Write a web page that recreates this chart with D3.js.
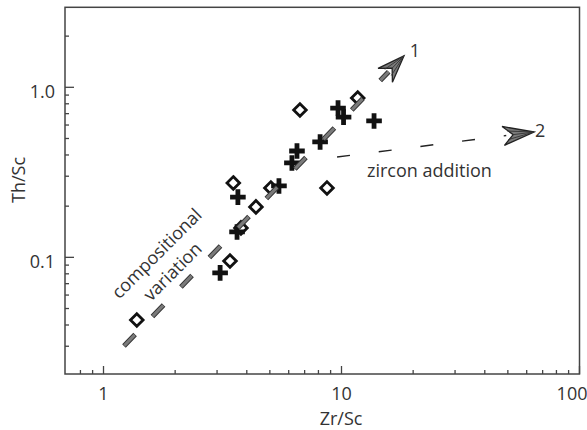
<!DOCTYPE html>
<html><head><meta charset="utf-8">
<script src="https://cdn.jsdelivr.net/npm/d3@7"></script>
<style>html,body{margin:0;padding:0;background:#fff;}svg{display:block;}</style>
</head><body>
<svg id="chart" width="587" height="430"></svg>
<script>
// ---- data ----
const diamondX = [1.38, 3.40, 3.51, 4.37, 3.78, 5.05, 6.69, 11.7, 8.69];
const diamondY = [0.0428, 0.0951, 0.274, 0.198, 0.149, 0.256, 0.735, 0.865, 0.256];
const crossX = [3.09, 3.64, 3.67, 5.46, 6.19, 6.50, 8.13, 9.67, 10.2, 13.7];
const crossY = [0.081, 0.141, 0.226, 0.263, 0.359, 0.422, 0.477, 0.755, 0.668, 0.634];
const compLineX = [1.219, 18.3];
const compLineY = [0.0301, 1.53];
const zirconLineX = [9.58, 64.4];
const zirconLineY = [0.389, 0.546];
const xTickValues = [1, 10, 100];
const xTickLabels = ["1", "10", "100"];
const yTickValues = [0.1, 1];
const yTickLabels = ["0.1", "1.0"];
const xTitle = "Zr/Sc";
const yTitle = "Th/Sc";

const svg = d3.select("#chart");
const FONT = "'Open Sans', 'Noto Sans', sans-serif";
const FS = 18;
const TXT = "#333";
const AX = "#444";

const x = d3.scaleLog().domain([0.689, 100]).range([65, 579.5]);
const y = d3.scaleLog().domain([0.0206, 2.955]).range([374, 7.3]);

// frame
svg.append("rect").attr("x", x.range()[0]).attr("y", y.range()[1])
  .attr("width", x.range()[1] - x.range()[0]).attr("height", y.range()[0] - y.range()[1])
  .attr("fill", "none").attr("stroke", AX).attr("stroke-width", 1.5);

// minor/major ticks (inward)
function logTicks(scale) {
  const [a, b] = scale.domain();
  const out = [];
  for (let e = Math.floor(Math.log10(a)); e <= Math.ceil(Math.log10(b)); e++) {
    for (let m = 1; m <= 9; m++) {
      const v = m * Math.pow(10, e);
      if (v >= a * 1.03 && v <= b * 1.001) out.push({v, major: m === 1});
    }
  }
  return out;
}
const gT = svg.append("g").attr("stroke", AX).attr("stroke-width", 1.3);
logTicks(x).forEach(t => {
  const px = x(t.v);
  gT.append("line").attr("x1", px).attr("x2", px)
    .attr("y1", y.range()[0]).attr("y2", y.range()[0] - (t.major ? 8 : 4));
});
logTicks(y).forEach(t => {
  const py = y(t.v);
  gT.append("line").attr("y1", py).attr("y2", py)
    .attr("x1", x.range()[0]).attr("x2", x.range()[0] + (t.major ? 9 : 4));
});

// tick labels
xTickValues.forEach((v, i) => {
  svg.append("text").attr("x", x(v)).attr("y", 400)
    .attr("text-anchor", i === 2 ? "end" : "middle")
    .attr("dx", i === 2 ? 8 : 0)
    .attr("font-family", FONT).attr("font-size", FS).attr("fill", TXT).text(xTickLabels[i]);
});
yTickValues.forEach((v, i) => {
  svg.append("text").attr("x", 55).attr("y", y(v) + 10.7)
    .attr("text-anchor", "end")
    .attr("font-family", FONT).attr("font-size", FS).attr("fill", TXT).text(yTickLabels[i]);
});
// axis titles
svg.append("text").attr("x", 341).attr("y", 425).attr("text-anchor", "middle")
  .attr("font-family", FONT).attr("font-size", FS).attr("fill", TXT).text(xTitle);
svg.append("text").attr("transform", "translate(25,180) rotate(-90)").attr("text-anchor", "middle")
  .attr("font-family", FONT).attr("font-size", FS).attr("fill", TXT).text(yTitle);

// markers
const gM = svg.append("g");
diamondX.forEach((v, i) => {
  const cx = x(v), cy = y(diamondY[i]), r = 6.3;
  gM.append("path").attr("d", `M${cx},${cy - r}L${cx + r},${cy}L${cx},${cy + r}L${cx - r},${cy}Z`)
    .attr("fill", "none").attr("stroke", "#111").attr("stroke-width", 2.8);
});
crossX.forEach((v, i) => {
  const cx = x(v), cy = y(crossY[i]), r = 7.8;
  gM.append("path").attr("d", `M${cx - r},${cy}H${cx + r}M${cx},${cy - r}V${cy + r}`)
    .attr("fill", "none").attr("stroke", "#111").attr("stroke-width", 4.8);
});

// compositional variation line (outlined grey dashes)
function seg(lx, ly) {
  return {x1: x(lx[0]), y1: y(ly[0]), x2: x(lx[1]), y2: y(ly[1])};
}
const c = seg(compLineX, compLineY);
const cLen = Math.hypot(c.x2 - c.x1, c.y2 - c.y1);
const cEnd = cLen - 22;
const cu = [(c.x2 - c.x1) / cLen, (c.y2 - c.y1) / cLen];
[["#333", 5], ["#7a7a7a", 3]].forEach(([col, w]) => {
  svg.append("line").attr("x1", c.x1).attr("y1", c.y1)
    .attr("x2", c.x1 + cu[0] * cEnd).attr("y2", c.y1 + cu[1] * cEnd)
    .attr("stroke", col).attr("stroke-width", w)
    .attr("stroke-dasharray", w === 5 ? "16 25" : "15 26")
    .attr("stroke-dashoffset", w === 5 ? 0 : -0.5);
});

// zircon addition line
const z = seg(zirconLineX, zirconLineY);
const zLen = Math.hypot(z.x2 - z.x1, z.y2 - z.y1);
const zu = [(z.x2 - z.x1) / zLen, (z.y2 - z.y1) / zLen];
const zEnd = zLen - 28;
svg.append("line").attr("x1", z.x1).attr("y1", z.y1)
  .attr("x2", z.x1 + zu[0] * zEnd).attr("y2", z.y1 + zu[1] * zEnd)
  .attr("stroke", "#222").attr("stroke-width", 1.4).attr("stroke-dasharray", "13 29");

// arrowheads
function arrow(tx, ty, u, L, W, notch) {
  const n = [-u[1], u[0]];
  const p = (a, b) => [tx + u[0] * a + n[0] * b, ty + u[1] * a + n[1] * b];
  const b1 = p(-L, -W), b2 = p(-L, W), nt = p(-notch, 0);
  svg.append("path").attr("d", `M${tx},${ty}L${b1}L${nt}L${b2}Z`)
    .attr("fill", "#7a7a7a").attr("stroke", "#222").attr("stroke-width", 1.3).attr("stroke-linejoin", "miter");
  const m1 = p(-L * 0.85, -W * 0.45), m2 = p(-L * 0.85, W * 0.45);
  svg.append("path").attr("d", `M${tx},${ty}L${m1}M${tx},${ty}L${m2}M${tx},${ty}L${nt}`)
    .attr("stroke", "#333").attr("stroke-width", 0.9).attr("fill", "none");
}
arrow(c.x2, c.y2, cu, 27, 10, 17);
arrow(z.x2, z.y2, zu, 31, 9.5, 21);

// annotations
svg.append("text").attr("x", c.x2 + 11).attr("y", c.y2 + 1).attr("text-anchor", "middle")
  .attr("font-family", FONT).attr("font-size", FS).attr("fill", TXT).text("1");
svg.append("text").attr("x", z.x2 + 1).attr("y", z.y2 + 5)
  .attr("font-family", FONT).attr("font-size", FS).attr("fill", TXT).text("2");
svg.append("text").attr("x", 367).attr("y", 177)
  .attr("font-family", FONT).attr("font-size", FS).attr("fill", TXT).text("zircon addition");
svg.append("text").attr("transform", "translate(161,258) rotate(-45)").attr("text-anchor", "middle")
  .attr("font-family", FONT).attr("font-size", FS).attr("fill", TXT).text("compositional");
svg.append("text").attr("transform", "translate(177,276) rotate(-45)").attr("text-anchor", "middle")
  .attr("font-family", FONT).attr("font-size", FS).attr("fill", TXT).text("variation");
</script>
</body></html>
